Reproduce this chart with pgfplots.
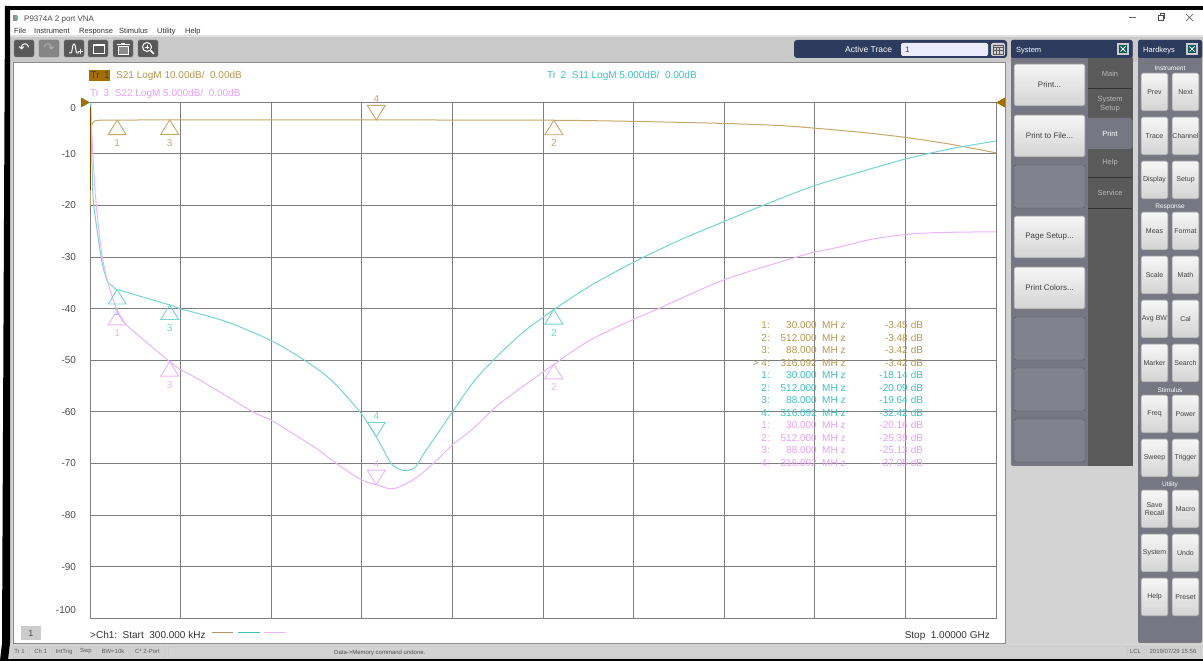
\documentclass[border=0pt]{standalone}
\usepackage{fontspec}
\usepackage{pgfplots}
\pgfplotsset{compat=1.18}
\setmainfont{Liberation Sans}
\newfontfamily\symfont{DejaVu Sans}

\definecolor{tracea}{HTML}{C6A86C}
\definecolor{traceb}{HTML}{76D4D3}
\definecolor{tracec}{HTML}{ECB4FC}
\definecolor{texta}{HTML}{B8964F}
\definecolor{textb}{HTML}{3CC0C0}
\definecolor{textc}{HTML}{E5A0FA}
\definecolor{gridc}{HTML}{7E7E7E}
\definecolor{navy}{HTML}{2C3B5E}
\definecolor{panel}{HTML}{777784}
\definecolor{tabdark}{HTML}{5A5A5A}
\definecolor{winbg}{HTML}{D3D3D3}
\definecolor{mbrown}{HTML}{A56E00}
\definecolor{btnedge}{HTML}{55555F}

% up and down marker triangles, tip on the data point
\pgfdeclareplotmark{mup}{%
  \pgfpathmoveto{\pgfqpoint{0pt}{0pt}}%
  \pgfpathlineto{\pgfqpoint{9pt}{-14.5pt}}%
  \pgfpathlineto{\pgfqpoint{-9pt}{-14.5pt}}%
  \pgfpathclose\pgfusepathqstroke}
\pgfdeclareplotmark{mdown}{%
  \pgfpathmoveto{\pgfqpoint{0pt}{0pt}}%
  \pgfpathlineto{\pgfqpoint{9pt}{14.5pt}}%
  \pgfpathlineto{\pgfqpoint{-9pt}{14.5pt}}%
  \pgfpathclose\pgfusepathqstroke}

\pgfplotsset{
  upmarks/.style={only marks, mark=mup, mark options={draw=#1, fill=none, line width=0.9pt},
    point meta=explicit symbolic, nodes near coords,
    every node near coord/.append style={anchor=center, yshift=-23pt, text=#1, font=\fontsize{10}{12}\selectfont}},
  downmarks/.style={only marks, mark=mdown, mark options={draw=#1, fill=none, line width=0.9pt},
    point meta=explicit symbolic, nodes near coords,
    every node near coord/.append style={anchor=center, yshift=21pt, text=#1, font=\fontsize{10}{12}\selectfont}},
}

\tikzset{px/.style={shift={(0pt,661pt)}, x=1pt, y=-1pt}}
\newcommand{\fs}[1]{\fontsize{#1}{#1}\selectfont}
% x1 y1 x2 y2 text, light button
\newcommand{\btn}[6][7]{%
  \shade[rounded corners=2pt, top color=white!93!gray, bottom color=black!17, draw=btnedge!70, line width=0.7pt] (#2,#3) rectangle (#4,#5);
  \node[align=center, inner sep=0, text=black!75, font=\fs{#1}] at ({(#2+#4)/2},{(#3+#5)/2}) {#6};}
\newcommand{\emptybtn}[4]{\draw[rounded corners=2pt, fill=panel!92!white, draw=btnedge] (#1,#2) rectangle (#3,#4);}
\newcommand{\keys}[3]{\btn{1141}{#1}{1168}{#1+38}{#2}\btn{1172}{#1}{1199}{#1+38}{#3}}
\newcommand{\keyhead}[2]{\node[text=white!75, font=\fs{6.5}, inner sep=0] at (1170,#1) {#2};}
\newcommand{\tool}[2]{\draw[rounded corners=1.5pt, fill=#2, draw=black!50] (#1,40) rectangle (#1+20,57);}
\newcommand{\status}[3]{\draw[draw=black!20, fill=black!18] (#1,646) rectangle (#2,657);
  \node[font=\fs{6}, text=black!65, inner sep=0] at ({(#1+#2)/2},651.5) {#3};}
% y, colour, number, frequency, value
\newcommand{\mrow}[5]{%
  \node[anchor=mid east, inner sep=0, text=#2] at (770,#1) {#3:};
  \node[anchor=mid east, inner sep=0, text=#2] at (817,#1) {#4};
  \node[anchor=mid west, inner sep=0, text=#2] at (822,#1) {MH z};
  \node[anchor=mid east, inner sep=0, text=#2] at (908,#1) {#5};
  \node[anchor=mid west, inner sep=0, text=#2] at (909,#1) {\,dB};}

\begin{document}
\begin{tikzpicture}[x=1pt, y=1pt]
\clip (0,0) rectangle (1203,661);
\fill[white] (0,0) rectangle (1203,661);

\begin{scope}[px]
  % window
  \fill[winbg] (6,37) rectangle (1203,659);
  \fill[black!21] (6,37) rectangle (1203,62);
  \fill[black!12] (6,35.5) rectangle (1203,37);
  \fill[white] (13,62) rectangle (1005,643);
  \draw[black!45, line width=0.8pt] (13,62) rectangle (1005,643);
  \fill[black] (5,6) rectangle (1203,10.5);
  \fill[black] (5,6) -- (10,6) -- (10,643) -- (8,660) -- (0,661) -- (2,643) -- cycle;
  \fill[black] (0,659.3) rectangle (1203,661);

  % title bar and menu
  \fill[black!45] (13,15) rectangle (17,21);
  \fill[teal!60] (15,16) rectangle (18,20);
  \node[anchor=mid west, inner sep=0, font=\fs{8}, text=black!70] at (24,18.5) {P9374A 2 port VNA};
  \foreach \mx/\mt in {14/File, 34/Instrument, 79/Response, 119/Stimulus, 157/Utility, 185/Help}
    \node[anchor=mid west, inner sep=0, font=\fs{7.5}, text=black!80] at (\mx,31) {\mt};
  \draw[black!60] (1129,17) -- (1136,17);
  \draw[black!70] (1158,15) rectangle (1163,20); \draw[black!70] (1160,15) -- (1160,13.5) -- (1164.5,13.5) -- (1164.5,18) -- (1163,18);
  \draw[black!70] (1186,14) -- (1193,21) (1193,14) -- (1186,21);

  % toolbar
  \tool{14}{black!65}\tool{39}{black!48}\tool{64}{black!65}\tool{88}{black!65}\tool{113}{black!65}\tool{138}{black!65}
  \node[inner sep=0, text=white, font=\symfont\fs{13}] at (24,48.5) {↶};
  \node[inner sep=0, text=black!30, font=\symfont\fs{13}] at (49,48.5) {↷};
  \draw[white, line width=1pt] (69,53) -- (71,53) .. controls (72.5,53) and (72,44) .. (74,44) .. controls (76,44) and (75.5,53) .. (77,53) -- (79,53);
  \draw[white, line width=0.8pt] (80,49) -- (80,54) (77.5,51.5) -- (82.5,51.5);
  \draw[white, line width=0.8pt] (93,44) rectangle (104,53);
  \fill[white] (93,44) rectangle (104,46);
  \draw[white, line width=0.8pt, fill=black!45] (118,46) rectangle (128,54);
  \draw[white, line width=1pt] (116.5,45) -- (129.5,45) (121,43.5) -- (125,43.5);
  \draw[white, line width=1pt] (147,47) circle (4.5); \draw[white, line width=1.6pt] (150.5,50.5) -- (154,54);
  \draw[white, line width=0.8pt] (145,47) -- (149,47) (147,45) -- (147,49);

  % active trace
  \fill[navy, rounded corners=3pt] (794,40) rectangle (1007,58);
  \node[anchor=mid west, inner sep=0, text=white, font=\fs{8.5}] at (845,49.5) {Active Trace};
  \fill[black!12!blue!8!white, rounded corners=1.5pt] (901,43) rectangle (988,56);
  \node[anchor=mid west, inner sep=0, text=black!80, font=\fs{8}] at (905,49.5) {1};
  \fill[black!18, rounded corners=1.5pt] (991,43) rectangle (1005,56);
  \draw[black!65, line width=0.6pt] (993,45) rectangle (1003,54) (993,47.5) -- (1003,47.5) (993,50.5) -- (1003,50.5) (996.3,47.5) -- (996.3,54) (999.6,47.5) -- (999.6,54);

  % system panel
  \fill[panel, rounded corners=2pt] (1011,40) rectangle (1132.5,466);
  \fill[navy, rounded corners=2pt] (1011,40) rectangle (1132.5,58);
  \node[anchor=mid west, inner sep=0, text=white!85, font=\fs{7.5}] at (1016,49.5) {System};
  \fill[black!20] (1117,43) rectangle (1129,55);
  \fill[teal!70!black] (1119,45) rectangle (1127,53);
  \draw[white, line width=0.8pt] (1120.5,46.5) -- (1125.5,51.5) (1125.5,46.5) -- (1120.5,51.5);
  \fill[tabdark] (1087.5,58) rectangle (1132.5,466);
  \fill[panel, rounded corners=3pt] (1087.5,118) rectangle (1132.5,149);
  \fill[panel] (1087.5,118) rectangle (1092,149);
  \draw[black!80, line width=0.6pt] (1088,88.5) -- (1132,88.5) (1088,177.5) -- (1132,177.5) (1088,208) -- (1132,208);
  \foreach \ty/\tt in {73.5/Main, 162.5/Help, 193/Service}
    \node[inner sep=0, text=black!28, font=\fs{7.5}] at (1110,\ty) {\tt};
  \node[inner sep=0, align=center, text=black!28, font=\fs{7.5}] at (1110,104) {System\\[1pt]Setup};
  \node[inner sep=0, text=white!90, font=\fs{7.5}] at (1110,133.5) {Print};
  \btn[8]{1014}{64}{1085}{106}{Print...}
  \btn[8]{1014}{115}{1085}{157}{Print to File...}
  \emptybtn{1014}{165}{1085}{208}
  \btn[8]{1014}{216}{1085}{258}{Page Setup...}
  \btn[8]{1014}{267}{1085}{309}{Print Colors...}
  \emptybtn{1014}{317}{1085}{360}
  \emptybtn{1014}{368}{1085}{411}
  \emptybtn{1014}{419}{1085}{462}

  % hardkeys panel
  \fill[panel, rounded corners=2pt] (1138,40) rectangle (1202,643);
  \fill[navy, rounded corners=2pt] (1138,40) rectangle (1202,58);
  \node[anchor=mid west, inner sep=0, text=white!85, font=\fs{7.5}] at (1143,49.5) {Hardkeys};
  \fill[black!20] (1186,43) rectangle (1198,55);
  \fill[teal!70!black] (1188,45) rectangle (1196,53);
  \draw[white, line width=0.8pt] (1189.5,46.5) -- (1194.5,51.5) (1194.5,46.5) -- (1189.5,51.5);
  \keyhead{68}{Instrument}
  \keys{73}{Prev}{Next}
  \keys{117}{Trace}{Channel}
  \keys{161}{Display}{Setup}
  \keyhead{206.5}{Response}
  \keys{212}{Meas}{Format}
  \keys{256}{Scale}{Math}
  \keys{300}{Avg BW}{Cal}
  \keys{344}{Marker}{Search}
  \keyhead{390}{Stimulus}
  \keys{395}{Freq}{Power}
  \keys{439}{Sweep}{Trigger}
  \keyhead{484.5}{Utility}
  \keys{490}{Save\\[1pt]Recall}{Macro}
  \keys{534}{System}{Undo}
  \keys{578}{Help}{Preset}

  % status bar
  \status{12}{27}{Tr 1}
  \status{29.5}{52}{Ch 1}
  \status{54}{74}{IntTrig}
  \status{76}{96}{Swp}
  \status{98}{128}{BW=10k}
  \status{130}{165}{C* 2-Port}
  \draw[draw=black!20] (168,646) rectangle (1126,657);
  \node[anchor=mid west, inner sep=0, font=\fs{6}, text=black!70] at (334,651.5) {Data->Memory command undone.};
  \status{1127}{1144}{LCL}
  \status{1146}{1200}{2019/07/29 15:56}
\end{scope}

\begin{axis}[
    at={(90pt,558.7pt)}, anchor=north west,
    scale only axis, width=906pt, height=516pt,
    xmin=0, xmax=1000, ymin=-100, ymax=0,
    xtick={0,100,...,1000}, xticklabels={},
    ytick={0,-10,-20,-30,-40,-50,-60,-70,-80,-90,-100},
    yticklabels={\raisebox{-6pt}[7pt][0pt]{0},-10,-20,-30,-40,-50,-60,-70,-80,-90,\raisebox{8pt}[7pt][0pt]{-100}},
    yticklabel style={font=\fs{10}, text=black!70, xshift=-10.5pt},
    major tick length=0pt,
    grid=major, major grid style={draw=gridc, line width=0.9pt},
    axis line style={draw=gridc, line width=0.9pt},
    clip=false,
  ]
  % S21 trace, values in dB on the 10 dB/div scale
  \addplot[tracea, line width=1pt, smooth, tension=0.4] coordinates {
    (0.3,-19.9) (0.66,-6.3) (2.2,-4.4) (4.4,-3.72) (8.8,-3.49) (30,-3.45) (88,-3.42)
    (316,-3.42) (512,-3.48) (600,-3.7) (700,-4.1) (761,-4.5) (799,-5.0) (850,-5.8)
    (900,-6.8) (949,-8.1) (1000,-9.8)
  };
  % S11 trace as displayed
  \addplot[traceb, line width=1pt, smooth, tension=0.5] coordinates {
    (0.8,-0.1) (3,-17.0) (5.5,-21.8) (12.9,-30.6) (18.4,-34.4) (22,-35.2) (27.6,-36.1)
    (30,-36.28) (88,-39.28) (99,-40.0) (121,-41.0) (155,-42.8) (200,-46.2) (236,-49.9)
    (266,-53.8) (298,-60.0) (316,-64.84) (331,-69.6) (337,-70.7) (348,-71.4) (359,-70.7)
    (370,-67.7) (400,-60.0) (425,-53.8) (453,-48.6) (480,-44.3) (512,-40.18)
    (552,-35.6) (600,-31.0) (651,-26.7) (700,-23.1) (744,-19.9) (799,-16.2) (850,-13.5)
    (900,-11.0) (949,-9.05) (1000,-7.5)
  };
  % S22 trace as displayed
  \addplot[tracec, line width=1pt, smooth, tension=0.5] coordinates {
    (0.8,-1.5) (5.5,-17) (12.9,-29.2) (20,-35) (30,-40.32) (40.5,-43.2) (88,-50.26)
    (99,-51.7) (121,-53.8) (180,-60) (200,-61.6) (232,-65.1) (250,-67.1) (272,-70)
    (300,-73.2) (316,-74.1) (331,-74.9) (342,-74.5) (359,-72.9) (379,-70) (400,-66.4)
    (423,-63.2) (453,-58.3) (512,-50.78) (552,-46.1) (600,-42.05) (626,-40.1) (700,-34.4)
    (780,-30) (799,-29.1) (828,-28) (864,-26.5) (908,-25.5) (949,-25.2) (1000,-25.1)
  };
  % dark start of the overlapping traces
  \addplot[mbrown!70!black, line width=1pt] coordinates {(0.1,-17) (0.1,-1)};
  % markers
  \addplot[upmarks=tracea] coordinates {(30,-3.45)[1] (88,-3.42)[3] (512,-3.48)[2]};
  \addplot[downmarks=tracea] coordinates {(316,-3.42)[4]};
  \addplot[upmarks=traceb] coordinates {(30,-36.28)[1] (88,-39.28)[3] (512,-40.18)[2]};
  \addplot[downmarks=traceb] coordinates {(316,-64.84)[4]};
  \addplot[upmarks=tracec] coordinates {(30,-40.32)[1] (88,-50.26)[3] (512,-50.78)[2]};
  \addplot[downmarks=tracec] coordinates {(316,-74.1)[4]};
\end{axis}

\begin{scope}[px]
  % reference position arrows
  \fill[mbrown] (81,97.5) -- (90,102.5) -- (81,107.5) -- cycle;
  \fill[mbrown] (1005,97.5) -- (996,102.5) -- (1005,107.5) -- cycle;

  % trace headers
  \fill[mbrown] (89,70) rectangle (110,81);
  \begin{scope}[every node/.style={anchor=mid west, inner sep=0, font=\fs{10}}]
    \node[text=black!75] at (90.5,75.5) {Tr\, 1};
    \node[text=texta] at (116,75.5) {S21 LogM 10.00dB/\ \ 0.00dB};
    \node[text=textb] at (547,75.5) {Tr\ \,2\ \ S11 LogM 5.000dB/\ \ 0.00dB};
    \node[text=textc] at (90,94) {Tr\, 3\ \ S22 LogM 5.000dB/\ \ 0.00dB};
    \node[text=black!80, font=\fs{10}] at (90,636) {>Ch1:\ \ Start\ \ 300.000 kHz};
  \end{scope}
  \node[anchor=mid east, inner sep=0, text=black!80, font=\fs{10}] at (990,636) {Stop\ \ 1.00000 GHz};

  % channel box and trace key
  \fill[black!20] (21,626) rectangle (41,640);
  \node[inner sep=0, font=\fs{9}, text=black!70] at (31,633) {1};
  \draw[tracea!90!black, line width=1pt] (212,633) -- (233,633);
  \draw[textb, line width=1pt] (238,633) -- (260,633);
  \draw[tracec, line width=1pt] (264,633) -- (286,633);

  % marker table
  \begin{scope}[font=\fs{10}]
    \mrow{326}{texta}{1}{30.000}{-3.45}
    \mrow{338.5}{texta}{2}{512.000}{-3.48}
    \mrow{351}{texta}{3}{88.000}{-3.42}
    \mrow{363.5}{texta}{> 4}{316.092}{-3.42}
    \mrow{376}{textb}{1}{30.000}{-18.14}
    \mrow{388.5}{textb}{2}{512.000}{-20.09}
    \mrow{401}{textb}{3}{88.000}{-19.64}
    \mrow{413.5}{textb}{4}{316.092}{-32.42}
    \mrow{426}{textc}{1}{30.000}{-20.16}
    \mrow{438.5}{textc}{2}{512.000}{-25.39}
    \mrow{451}{textc}{3}{88.000}{-25.13}
    \mrow{463.5}{textc}{4}{316.092}{-37.05}
  \end{scope}
\end{scope}
\end{tikzpicture}
\end{document}
